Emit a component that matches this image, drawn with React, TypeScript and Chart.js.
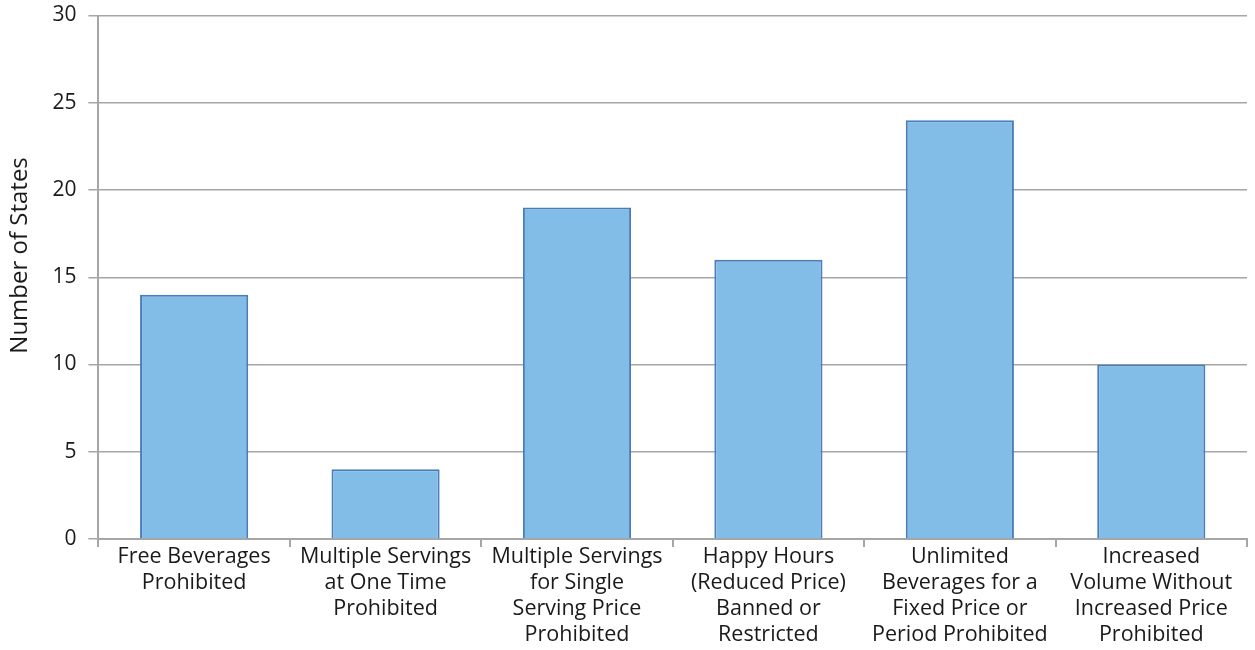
import React, { useEffect, useRef } from "react";
import { Chart, registerables } from "chart.js";

Chart.register(...registerables);

const categories: string[][] = [
  ["Free Beverages", "Prohibited"],
  ["Multiple Servings", "at One Time", "Prohibited"],
  ["Multiple Servings", "for Single", "Serving Price", "Prohibited"],
  ["Happy Hours", "(Reduced Price)", "Banned or", "Restricted"],
  ["Unlimited", "Beverages for a", "Fixed Price or", "Period Prohibited"],
  ["Increased", "Volume Without", "Increased Price", "Prohibited"],
];
const stateCounts: number[] = [14, 4, 19, 16, 24, 10];
const yTicks: number[] = [0, 5, 10, 15, 20, 25, 30];

const FONT = "'Open Sans', Lato, sans-serif";

export default function App() {
  const ref = useRef<HTMLCanvasElement | null>(null);
  useEffect(() => {
    if (!ref.current) return;
    const chart = new Chart(ref.current, {
      type: "bar",
      data: {
        labels: categories,
        datasets: [
          {
            data: stateCounts,
            backgroundColor: "#82BDE8",
            borderColor: "#4A7EBB",
            borderWidth: 2,
            categoryPercentage: 1,
            barPercentage: 0.565,
          },
        ],
      },
      options: {
        animation: false,
        responsive: false,
        maintainAspectRatio: false,
        layout: { padding: { top: 0, right: 8, left: 7, bottom: 5 } },
        plugins: { legend: { display: false }, tooltip: { enabled: false } },
        scales: {
          x: {
            offset: true,
            grid: {
              offset: true,
              drawOnChartArea: false,
              drawTicks: true,
              tickLength: 8,
              color: "#A6A6A6",
              lineWidth: 2,
            },
            border: { color: "#A6A6A6", width: 2 },
            ticks: {
              color: "#1a1a1a",
              font: { family: FONT, size: 21.5, lineHeight: 26 / 21.5 },
              maxRotation: 0,
              autoSkip: false,
              padding: -3,
            },
          },
          y: {
            min: 0,
            max: 30,
            afterBuildTicks: (axis: any) => {
              axis.ticks = yTicks.map((v) => ({ value: v }));
            },
            grid: {
              color: "#A6A6A6",
              lineWidth: 1.5,
              tickLength: 10,
            },
            border: { color: "#A6A6A6", width: 2 },
            ticks: {
              color: "#1a1a1a",
              font: { family: FONT, size: 21, lineHeight: 1.0 },
              padding: 12,
            },
            title: {
              display: true,
              text: "       Number of States",
              color: "#1a1a1a",
              font: { family: FONT, size: 24, lineHeight: 1.1 },
              padding: { top: 0, bottom: 7 },
            },
          },
        },
      },
    });
    return () => chart.destroy();
  }, []);
  return (
    <div style={{ position: "absolute", left: 0, top: -7, width: 1255, height: 657, background: "#fff" }}>
      <canvas ref={ref} width={1255} height={657} style={{ width: 1255, height: 657 }} />
    </div>
  );
}
